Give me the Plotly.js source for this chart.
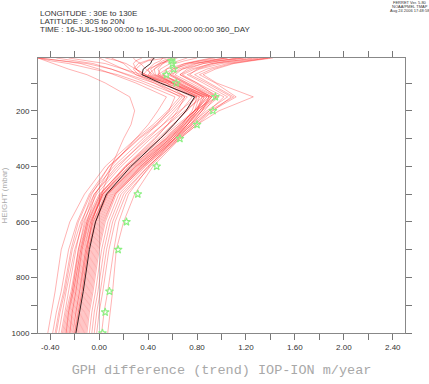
<!DOCTYPE html>
<html>
<head>
<meta charset="utf-8">
<script src="https://cdn.plot.ly/plotly-3.0.1.min.js"></script>
<style>html,body{margin:0;padding:0;background:#fff;}#chart{width:429px;height:384px;}</style>
</head>
<body>
<div id="chart"></div>
<script>
// Pressure levels (mbar)
const levels = [1000, 925, 850, 700, 600, 500, 400, 300, 250, 200, 150, 100, 70, 50, 30, 20, 10];

// Ensemble members: GPH trend difference (m/year) at each level
const m01 = [-0.42,-0.39,-0.36,-0.31,-0.24,-0.12,0.05,0.30,0.44,0.56,0.66,0.45,0.30,0.25,0.20,0.15,0.10];
const m02 = [-0.38,-0.35,-0.31,-0.25,-0.18,-0.08,0.08,0.33,0.48,0.60,0.70,0.55,0.38,0.30,0.35,0.40,0.55];
const m03 = [-0.35,-0.32,-0.28,-0.22,-0.15,-0.04,0.16,0.38,0.52,0.66,0.80,0.60,0.48,0.55,0.70,0.85,1.05];
const m04 = [-0.33,-0.30,-0.27,-0.20,-0.13,-0.02,0.18,0.42,0.56,0.70,0.85,0.65,0.52,0.60,0.75,0.95,1.20];
const m05 = [-0.31,-0.28,-0.25,-0.19,-0.14,-0.06,0.08,0.32,0.46,0.58,0.68,0.40,0.22,0.10,-0.05,-0.20,-0.35];
const m06 = [-0.30,-0.27,-0.23,-0.17,-0.11,0.00,0.22,0.48,0.60,0.72,0.82,0.58,0.40,0.45,0.52,0.58,0.62];
const m07 = [-0.29,-0.26,-0.22,-0.16,-0.10,0.01,0.21,0.45,0.56,0.67,0.76,0.52,0.36,0.40,0.50,0.55,0.60];
const m08 = [-0.28,-0.25,-0.21,-0.15,-0.09,0.02,0.25,0.52,0.66,0.78,0.90,0.70,0.58,0.68,0.85,1.00,1.15];
const m09 = [-0.27,-0.24,-0.21,-0.15,-0.10,-0.03,0.10,0.30,0.40,0.48,0.55,0.30,0.12,0.00,-0.15,-0.30,-0.48];
const m10 = [-0.26,-0.23,-0.20,-0.14,-0.08,0.03,0.26,0.55,0.68,0.80,0.92,0.72,0.60,0.65,0.78,0.90,1.02];
const m11 = [-0.25,-0.22,-0.19,-0.13,-0.07,0.04,0.27,0.54,0.66,0.78,0.88,0.62,0.45,0.42,0.48,0.52,0.58];
const m12 = [-0.24,-0.21,-0.18,-0.12,-0.07,0.03,0.24,0.50,0.61,0.71,0.79,0.55,0.35,0.30,0.28,0.30,0.35];
const m13 = [-0.23,-0.20,-0.17,-0.11,-0.05,0.06,0.30,0.58,0.72,0.84,0.98,0.78,0.66,0.75,0.92,1.10,1.30];
const m14 = [-0.22,-0.19,-0.16,-0.10,-0.05,0.05,0.28,0.55,0.67,0.78,0.86,0.60,0.42,0.40,0.45,0.50,0.52];
const m15 = [-0.21,-0.19,-0.16,-0.11,-0.06,0.03,0.22,0.46,0.56,0.64,0.70,0.48,0.32,0.28,0.32,0.38,0.45];
const m16 = [-0.20,-0.17,-0.14,-0.09,-0.04,0.06,0.29,0.56,0.69,0.80,0.88,0.66,0.52,0.55,0.62,0.70,0.80];
const m17 = [-0.19,-0.17,-0.14,-0.09,-0.03,0.07,0.30,0.57,0.70,0.82,0.92,0.70,0.56,0.60,0.70,0.80,0.92];
const m18 = [-0.18,-0.16,-0.13,-0.08,-0.03,0.07,0.31,0.60,0.74,0.88,1.05,0.85,0.72,0.82,1.00,1.15,1.35];
const m19 = [-0.17,-0.15,-0.12,-0.07,-0.02,0.08,0.32,0.58,0.70,0.80,0.86,0.58,0.38,0.30,0.22,0.15,0.05];
const m20 = [-0.16,-0.14,-0.11,-0.06,-0.01,0.09,0.33,0.62,0.76,0.90,1.10,0.90,0.78,0.88,1.05,1.20,1.40];
const m21 = [-0.15,-0.13,-0.10,-0.05,0.00,0.10,0.34,0.60,0.72,0.82,0.90,0.65,0.48,0.50,0.58,0.65,0.72];
const m22 = [-0.14,-0.12,-0.09,-0.04,0.01,0.11,0.35,0.63,0.76,0.86,0.95,0.72,0.58,0.62,0.72,0.82,0.95];
const m23 = [-0.13,-0.11,-0.08,-0.03,0.02,0.12,0.36,0.62,0.74,0.84,0.92,0.68,0.50,0.48,0.52,0.55,0.60];
const m24 = [-0.12,-0.10,-0.07,-0.02,0.03,0.13,0.37,0.64,0.78,0.90,1.02,0.80,0.66,0.72,0.85,0.98,1.12];
const m25 = [-0.10,-0.08,-0.05,0.00,0.05,0.14,0.36,0.60,0.70,0.78,0.82,0.55,0.35,0.20,0.05,-0.10,-0.25];
const m26 = [-0.08,-0.06,-0.03,0.02,0.07,0.16,0.38,0.62,0.72,0.80,0.84,0.60,0.44,0.38,0.34,0.30,0.28];
const m27 = [-0.06,-0.04,-0.01,0.04,0.09,0.18,0.40,0.66,0.80,0.93,1.08,0.88,0.74,0.80,0.95,1.10,1.25];
const m28 = [-0.04,-0.02,0.01,0.06,0.11,0.20,0.40,0.64,0.75,0.84,0.90,0.62,0.46,0.45,0.50,0.56,0.64];
const m29 = [-0.02,0.00,0.03,0.08,0.13,0.22,0.42,0.65,0.78,0.92,1.12,0.95,0.82,0.92,1.08,1.22,1.38];
const m30 = [0.07,0.09,0.11,0.14,0.20,0.29,0.44,0.66,0.80,0.98,1.26,0.96,0.85,0.95,1.10,1.25,1.42];
const m31 = [-0.20,-0.18,-0.15,-0.10,-0.06,0.02,0.10,0.20,0.26,0.29,0.25,0.05,-0.10,-0.25,-0.38,-0.45,-0.50];
const m32 = [0.02,0.04,0.07,0.12,0.16,0.24,0.41,0.62,0.72,0.82,0.96,0.75,0.62,0.68,0.80,0.92,1.05];
const m33 = [-0.36,-0.33,-0.29,-0.23,-0.17,-0.07,0.12,0.36,0.47,0.57,0.62,0.35,0.15,-0.05,-0.25,-0.40,-0.50];
const m34 = [-0.27,-0.25,-0.22,-0.17,-0.12,-0.04,0.14,0.40,0.52,0.62,0.72,0.45,0.25,0.10,-0.10,-0.30,-0.50];
const m35 = [-0.11,-0.09,-0.06,-0.01,0.04,0.13,0.34,0.58,0.68,0.76,0.80,0.50,0.30,0.20,0.10,0.05,0.00];
const m36 = [-0.24,-0.22,-0.19,-0.14,-0.09,0.01,0.22,0.50,0.64,0.78,0.96,0.80,0.68,0.78,0.92,1.05,1.18];
const members = [m01,m02,m03,m04,m05,m06,m07,m08,m09,m10,m11,m12,m13,m14,m15,m16,m17,m18,
                 m19,m20,m21,m22,m23,m24,m25,m26,m27,m28,m29,m30,m31,m32,m33,m34,m35,m36];

// Ensemble mean (black) and observed (green stars)
const ensMean = [-0.19,-0.16,-0.13,-0.08,-0.03,0.06,0.26,0.50,0.61,0.71,0.78,0.50,0.35,0.36,0.42,0.43,0.45];
const observed = [0.027,0.049,0.084,0.155,0.223,0.316,0.47,0.66,0.80,0.93,0.95,0.63,0.55,0.61,0.60,0.59,0.60];

// Axis tick labels
const xTickVals = [-0.4,0.0,0.4,0.8,1.2,1.6,2.0,2.4];
const xTickText = ["-0.40","0.00","0.40","0.80","1.20","1.60","2.00","2.40"];
const yTickVals = [200,400,600,800,1000];
const yTickText = ["200","400","600","800","1000"];

// Header texts
const headerLines = ["LONGITUDE : 30E to 130E", "LATITUDE : 30S to 20N",
                     "TIME : 16-JUL-1960 00:00 to 16-JUL-2000 00:00 360_DAY"];
const stampLines = ["FERRET Ver. 5.80", "NOAA/PMEL TMAP", "Aug 24 2006 17:48:58"];

const traces = members.map(m => ({
  type: 'scatter', mode: 'lines', x: m, y: levels,
  line: {color: 'rgba(255,0,0,0.3)', width: 1}, hoverinfo: 'skip'
}));
traces.push({type:'scatter', mode:'lines', x: ensMean, y: levels,
  line:{color:'rgba(40,15,15,0.9)', width:1}});
traces.push({type:'scatter', mode:'markers', x: observed, y: levels,
  marker:{symbol:'star-open', size:6, color:'rgb(140,240,130)', line:{width:1.1}}});

const tickFont = {family:'Liberation Sans, Arial, sans-serif', size:8, color:'#333'};
const annotations = [];
headerLines.forEach((t, i) => annotations.push({
  xref:'paper', yref:'paper', x:0, y:1, xanchor:'left', yanchor:'middle', align:'left',
  xshift:0, yshift: 58 - 13 - 8*i, text:t, showarrow:false,
  font:{family:'Liberation Sans, Arial, sans-serif', size:8, color:'#333'}
}));
stampLines.forEach((t, i) => annotations.push({
  xref:'paper', yref:'paper', x:1, y:1, xanchor:'center', yanchor:'middle', align:'center',
  xshift: 5, yshift: 58 - 2.5 - 4.2*i, text:t, showarrow:false,
  font:{family:'Liberation Sans Narrow, Liberation Sans, Arial, sans-serif', size:4, color:'#333'}
}));

const layout = {
  width:429, height:384,
  margin:{l:38, r:24, t:58, b:51, pad:0},
  paper_bgcolor:'#fff', plot_bgcolor:'#fff',
  showlegend:false,
  xaxis:{
    range:[-0.5,2.5], tickmode:'array', tickvals:xTickVals, ticktext:xTickText,
    ticks:'outside', ticklen:6, tickcolor:'#777', tickwidth:1,
    minor:{ticks:'outside', ticklen:6, tickcolor:'#777', dtick:0.2, tick0:0, showgrid:false},
    showline:true, linecolor:'#888', linewidth:1, mirror:'ticks',
    showgrid:false, zeroline:true, zerolinecolor:'#c8c8c8', zerolinewidth:1,
    tickfont:tickFont,
    title:{text:'GPH difference (trend) IOP-ION m/year',
      font:{family:'Liberation Mono, Courier New, monospace', size:13.5, color:'#a8a8a8'}, standoff:13}
  },
  yaxis:{
    range:[1000,10], tickmode:'array', tickvals:yTickVals, ticktext:yTickText,
    ticks:'outside', ticklen:6, tickcolor:'#777', tickwidth:1,
    minor:{ticks:'outside', ticklen:6, tickcolor:'#777', dtick:100, tick0:0, showgrid:false},
    showline:true, linecolor:'#888', linewidth:1, mirror:'ticks',
    showgrid:false, zeroline:false,
    tickfont:tickFont,
    title:{text:'HEIGHT (mbar)', font:{family:'Liberation Sans, Arial, sans-serif', size:8, color:'#aaa'}, standoff:10}
  },
  annotations: annotations
};

Plotly.newPlot('chart', traces, layout, {staticPlot:true, displayModeBar:false});
</script>
</body>
</html>
